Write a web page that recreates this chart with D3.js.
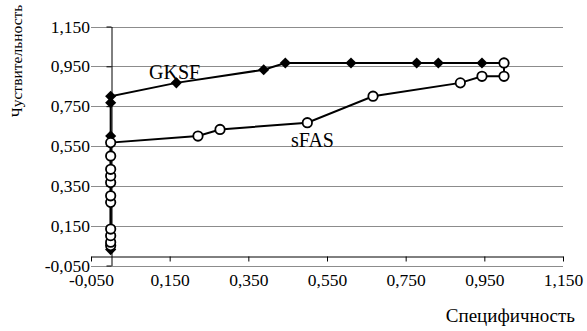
<!DOCTYPE html>
<html>
  <head>
    <meta http-equiv="Content-Type" content="text/html;charset=utf-8">
    <title>ROC</title>
    <script type="text/javascript" src="https://cdn.jsdelivr.net/npm/d3@7"></script>
    <style type="text/css">
body {
    margin: 0;
    background: #fff;
}
.grid line {
    stroke: #8c8c8c;
    stroke-width: 1;
}
.series {
    fill: none;
    stroke: #000;
    stroke-width: 2;
}
    </style>
  </head>
  <body>
    <script type="text/javascript">
// GKSF (filled diamonds)
var gksfX = [0, 0, 0, 0, 0.167, 0.389, 0.444, 0.611, 0.778, 0.833, 0.944, 1.0];
var gksfY = [0.03, 0.6, 0.767, 0.8, 0.867, 0.933, 0.967, 0.967, 0.967, 0.967, 0.967, 0.967];

// sFAS (open circles)
var sfasX = [0, 0, 0, 0, 0, 0, 0, 0, 0, 0, 0, 0.222, 0.278, 0.5, 0.667, 0.889, 0.944, 1.0, 1.0];
var sfasY = [0.05, 0.067, 0.1, 0.133, 0.267, 0.3, 0.367, 0.4, 0.433, 0.5, 0.567, 0.6, 0.633, 0.667, 0.8, 0.867, 0.9, 0.9, 0.967];

var ticks = [-0.05, 0.15, 0.35, 0.55, 0.75, 0.95, 1.15];

var width = 587,
    height = 331,
    serif = "'Times New Roman', 'Liberation Serif', serif";

var svg = d3.select("body")
  .append("svg")
  .attr("width", width)
  .attr("height", height)
  .style("font-family", serif);

var x = d3.scaleLinear().domain([-0.05, 1.15]).range([91, 563]);
var y = d3.scaleLinear().domain([-0.05, 1.15]).range([265.5, 26.5]);

var loc = d3.formatLocale({decimal: ",", thousands: " ", grouping: [3], currency: ["", ""], minus: "-"});
var fmt = loc.format(".3f");

// horizontal gridlines
svg.append("g")
  .attr("class", "grid")
  .selectAll("line")
  .data(ticks)
  .enter().append("line")
  .attr("x1", x(-0.05))
  .attr("x2", x(1.15))
  .attr("y1", function(d) { return Math.round(y(d)) + 0.5; })
  .attr("y2", function(d) { return Math.round(y(d)) + 0.5; });

// x axis line crosses at y = 0
var xAxis = svg.append("g")
  .attr("transform", "translate(0," + (Math.round(y(0)) + 0.5) + ")")
  .call(d3.axisBottom(x).tickValues(ticks).tickSize(5).tickSizeOuter(0).tickFormat(""));
xAxis.selectAll("path, line").attr("stroke", "#000");

// y axis line crosses at x = 0
var yAxis = svg.append("g")
  .attr("transform", "translate(" + (Math.round(x(0)) + 0.5) + ",0)")
  .call(d3.axisLeft(y).tickValues(ticks).tickSize(5).tickSizeOuter(0).tickFormat(""));
yAxis.selectAll("path, line").attr("stroke", "#000");

// tick labels sit at the low end of each axis
var xLab = svg.append("g")
  .attr("transform", "translate(0," + y(-0.05) + ")")
  .call(d3.axisBottom(x).tickValues(ticks).tickSize(0).tickPadding(8).tickFormat(fmt));
xLab.select(".domain").remove();
xLab.attr("font-family", serif).attr("font-size", 17.5);
xLab.selectAll("text").attr("fill", "#000");

var yLab = svg.append("g")
  .attr("transform", "translate(" + x(-0.05) + ",0)")
  .call(d3.axisLeft(y).tickValues(ticks).tickSize(0).tickPadding(1).tickFormat(fmt));
yLab.select(".domain").remove();
yLab.attr("font-family", serif).attr("font-size", 17.5);
yLab.selectAll("text").attr("fill", "#000");

var line = d3.line()
  .x(function(d) { return x(d[0]); })
  .y(function(d) { return y(d[1]); });

var gksf = d3.zip(gksfX, gksfY);
var sfas = d3.zip(sfasX, sfasY);

svg.append("path").datum(gksf).attr("class", "series").attr("d", line);

svg.append("g")
  .selectAll("path")
  .data(gksf)
  .enter().append("path")
  .attr("d", d3.symbol().type(d3.symbolSquare).size(62))
  .attr("transform", function(d) { return "translate(" + x(d[0]) + "," + y(d[1]) + ") rotate(45)"; })
  .attr("fill", "#000");

svg.append("path").datum(sfas).attr("class", "series").attr("d", line);

svg.append("g")
  .selectAll("circle")
  .data(sfas)
  .enter().append("circle")
  .attr("cx", function(d) { return x(d[0]); })
  .attr("cy", function(d) { return y(d[1]); })
  .attr("r", 4.7)
  .attr("fill", "#fff")
  .attr("stroke", "#000")
  .attr("stroke-width", 1.8);

// series labels
svg.append("text")
  .attr("x", 149)
  .attr("y", 79)
  .attr("font-size", 20)
  .text("GKSF");

svg.append("text")
  .attr("x", 291)
  .attr("y", 147)
  .attr("font-size", 20)
  .text("sFAS");

// axis titles
svg.append("text")
  .attr("x", 575)
  .attr("y", 322)
  .attr("text-anchor", "end")
  .attr("font-size", 19)
  .text("Специфичность");

svg.append("text")
  .attr("transform", "translate(22,61) rotate(-90)")
  .attr("text-anchor", "middle")
  .attr("font-size", 15.5)
  .text("Чуствительность");
    </script>
  </body>
</html>
